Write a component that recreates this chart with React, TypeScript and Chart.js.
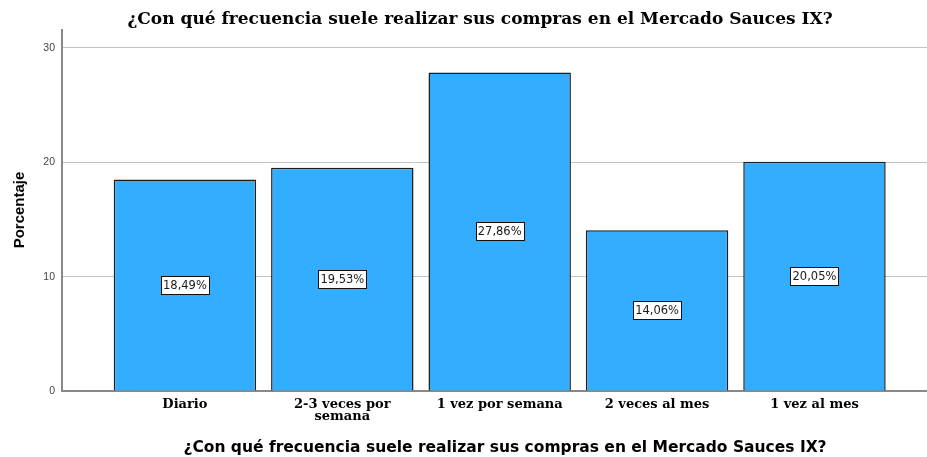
import React, { useEffect, useRef } from "react";
import { Chart, registerables } from "chart.js";

Chart.register(...registerables);

const categories: (string | string[])[] = [
  "Diario",
  ["2-3 veces por", "semana"],
  "1 vez por semana",
  "2 veces al mes",
  "1 vez al mes",
];
const percentages = [18.49, 19.53, 27.86, 14.06, 20.05];
const valueLabels = ["18,49%", "19,53%", "27,86%", "14,06%", "20,05%"];
const yTickValues = [0, 10, 20, 30];
const chartTitle = "¿Con qué frecuencia suele realizar sus compras en el Mercado Sauces IX?";
const xAxisTitle = "¿Con qué frecuencia suele realizar sus compras en el Mercado Sauces IX?";
const yAxisTitle = "Porcentaje";

const W = 927;
const H = 457;

const textPlugin = {
  id: "spssTexts",
  afterDraw(chart: any) {
    const { ctx } = chart;
    ctx.save();
    // chart title
    ctx.fillStyle = "#000";
    ctx.textAlign = "center";
    ctx.textBaseline = "alphabetic";
    ctx.font = "bold 17px 'DejaVu Serif'";
    ctx.fillText(chartTitle, 480, 24);
    // x axis title
    ctx.font = "bold 15.5px 'DejaVu Sans'";
    ctx.fillText(xAxisTitle, 505, 451.5);
    // y axis title
    ctx.save();
    ctx.translate(23.5, 210);
    ctx.rotate(-Math.PI / 2);
    ctx.font = "bold 15px 'Liberation Sans'";
    ctx.fillText(yAxisTitle, 0, 0);
    ctx.restore();
    // value labels
    const meta = chart.getDatasetMeta(0);
    ctx.font = "11.5px 'DejaVu Sans'";
    ctx.textBaseline = "middle";
    meta.data.forEach((el: any, i: number) => {
      const txt = valueLabels[i];
      const cx = el.x;
      const cy = (el.y + el.base) / 2;
      const tw = ctx.measureText(txt).width;
      const bw = Math.round(tw + 4);
      const bh = 18;
      const bx = Math.round(cx - bw / 2) + 0.5;
      const by = Math.round(cy - bh / 2) + 0.5;
      ctx.fillStyle = "#fff";
      ctx.fillRect(bx, by, bw, bh);
      ctx.strokeStyle = "#111";
      ctx.lineWidth = 1;
      ctx.strokeRect(bx, by, bw, bh);
      ctx.fillStyle = "#1a1a1a";
      ctx.textAlign = "center";
      ctx.fillText(txt, cx, cy + 0.5);
    });
    ctx.restore();
  },
};

export default function App() {
  const ref = useRef<HTMLCanvasElement | null>(null);
  useEffect(() => {
    if (!ref.current) return;
    const chart = new Chart(ref.current, {
      type: "bar",
      data: {
        datasets: [
          {
            data: percentages.map((v, i) => ({ x: i + 1, y: v })),
            backgroundColor: "rgb(51,173,255)",
            borderColor: "#1e1e1e",
            borderWidth: 1.5,
            barPercentage: 0.905,
            categoryPercentage: 1,
          },
        ],
      },
      options: {
        animation: false,
        responsive: false,
        devicePixelRatio: 1,
        layout: { padding: { top: 30, left: 0, right: 0, bottom: 0 } },
        plugins: {
          legend: { display: false },
          title: { display: false },
          tooltip: { enabled: false },
        },
        scales: {
          x: {
            type: "linear",
            offset: false,
            min: 0.219,
            max: 5.715,
            afterFit: (s: any) => {
              s.height = 66;
            },
            afterBuildTicks: (s: any) => {
              s.ticks = categories.map((_, i) => ({ value: i + 1 }));
            },
            grid: { display: false, drawTicks: false, offset: false },
            border: { display: true, color: "#888", width: 2 },
            ticks: {
              autoSkip: false,
              maxRotation: 0,
              padding: 8,
              color: "#000",
              font: { family: "'DejaVu Serif'", size: 13, weight: "bold", lineHeight: 0.92 },
              callback: (v: any) => categories[Math.round(v) - 1] as any,
            },
          },
          y: {
            type: "linear",
            min: 0,
            max: 31.57,
            afterFit: (s: any) => {
              s.width = 62;
            },
            afterBuildTicks: (s: any) => {
              s.ticks = yTickValues.map((v) => ({ value: v }));
            },
            grid: { color: "#c4c4c4", lineWidth: 1, drawTicks: false },
            border: { display: true, color: "#888", width: 2 },
            ticks: {
              padding: 7,
              color: "#444",
              font: { family: "'Liberation Sans'", size: 10.5 },
            },
          },
        },
      },
      plugins: [textPlugin],
    } as any);
    return () => chart.destroy();
  }, []);
  return (
    <div style={{ position: "absolute", left: 0, top: 0, width: W, height: H }}>
      <canvas ref={ref} width={W} height={H} style={{ display: "block" }} />
    </div>
  );
}
